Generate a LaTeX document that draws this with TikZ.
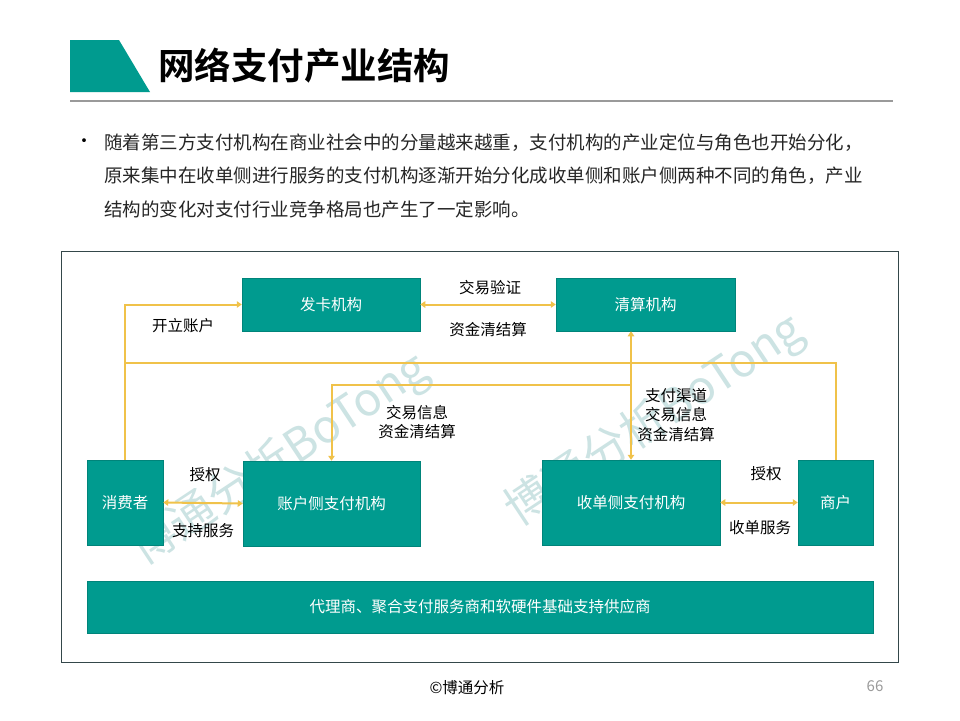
\documentclass[tikz,border=0pt]{standalone}
\usepackage{fontspec}
\setmainfont{Noto Sans CJK SC}[BoldFont={* Bold}]
\usetikzlibrary{arrows.meta}
\definecolor{tealbox}{HTML}{009B8F}
\definecolor{arrowyl}{HTML}{F0C24A}
\definecolor{framec}{HTML}{34474A}
\definecolor{wmark}{HTML}{CCE3E3}
\definecolor{rulegray}{HTML}{9A9A9A}
\newcommand\fsz[2]{\fontsize{#1pt}{#2pt}\selectfont}
\begin{document}
\begin{tikzpicture}[x=1pt,y=-1pt,
  box/.style={fill=tealbox, draw=tealbox!85!black, line width=0.5pt, text=white,
    font=\fsz{15.5}{20}, inner sep=0pt, align=center},
  yl/.style={draw=arrowyl, line width=2pt},
  tip/.style={-{Triangle[width=6.5pt,length=5pt]}},
  tips/.style={{Triangle[width=6.5pt,length=5pt]}-{Triangle[width=6.5pt,length=5pt]}},
  lbl/.style={font=\fsz{15.5}{19.5}, text=black, align=center, inner sep=0pt},
  body/.style={font=\fsz{18.5}{22}, text=black!85, anchor=west, inner sep=0pt},
  wm/.style={font=\fsz{46}{50}, text=wmark, rotate=33.5, inner sep=0pt}]
\useasboundingbox (0,0) rectangle (960,720);
\fill[white] (0,0) rectangle (960,720);
% header
\fill[tealbox] (70,40) -- (119,40) -- (150,92) -- (70,92) -- cycle;
\node[anchor=west, font=\fsz{36.5}{40}\bfseries, inner sep=0pt] (title) at (158,66) {网络支付产业结构};
\draw[rulegray, line width=1.2pt] (70,101) -- (893,101);
% bullet text
\node[font=\fsz{18}{20}, inner sep=0pt] (bul) at (84,143) {•};
\node[body] (l1) at (104,143) {随着第三方支付机构在商业社会中的分量越来越重，支付机构的产业定位与角色也开始分化，};
\node[body] (l2) at (104,176) {原来集中在收单侧进行服务的支付机构逐渐开始分化成收单侧和账户侧两种不同的角色，产业};
\node[body] (l3) at (104,209) {结构的变化对支付行业竞争格局也产生了一定影响。};
% frame
\draw[framec, line width=1pt] (61,251) rectangle (898,662);
% watermarks
\node[wm] (wm1) at (280,460) {博通分析BoTong};
\node[wm] (wm2) at (655,421) {博通分析BoTong};
% boxes
\node[box, minimum width=178pt, minimum height=53pt] (fk) at (331,304.5) {发卡机构};
\node[box, minimum width=179pt, minimum height=53pt] (qs) at (645.5,304.5) {清算机构};
\node[box, minimum width=76pt, minimum height=85pt] (xf) at (125,502.5) {消费者};
\node[box, minimum width=177pt, minimum height=85pt] (zh) at (331.5,503.5) {账户侧支付机构};
\node[box, minimum width=178pt, minimum height=85pt] (sd) at (631,502.5) {收单侧支付机构};
\node[box, minimum width=75pt, minimum height=85pt] (sh) at (835.5,502.5) {商户};
\node[box, minimum width=786pt, minimum height=52pt] (bar) at (480,607) {代理商、聚合支付服务商和软硬件基础支持供应商};
% connectors
\coordinate (jl) at (125,363);
\coordinate (br) at (631,385);
\draw[yl, tip] (xf.north) |- (fk.west);
\draw[yl] (jl) -| (sh.north);
\draw[yl, tips] (fk.east) -- (qs.west);
\draw[yl, tips] (sd.north) -- (sd.north |- qs.south);
\draw[yl, tip] (br) -| (zh.north);
\draw[yl, tips] (xf.east) -- (zh.west);
\draw[yl, tips] (sd.east) -- (sh.west);
% labels
\node[lbl] (t1) at (183,326) {开立账户};
\node[lbl] (t2) at (490,288) {交易验证};
\node[lbl] (t3) at (488,330) {资金清结算};
\node[lbl] (t4) at (417,422) {交易信息\\资金清结算};
\node[lbl] (t5) at (676,415) {支付渠道\\交易信息\\资金清结算};
\node[lbl] (t6) at (205,475) {授权};
\node[lbl] (t7) at (203,531) {支持服务};
\node[lbl] (t8) at (766,474) {授权};
\node[lbl] (t9) at (760,528) {收单服务};
% footer
\node[lbl] (foot) at (467,688) {©博通分析};
\node[font=\fsz{15}{18}, text=rulegray, inner sep=0pt] (pg) at (875,686) {66};
\end{tikzpicture}
\end{document}
